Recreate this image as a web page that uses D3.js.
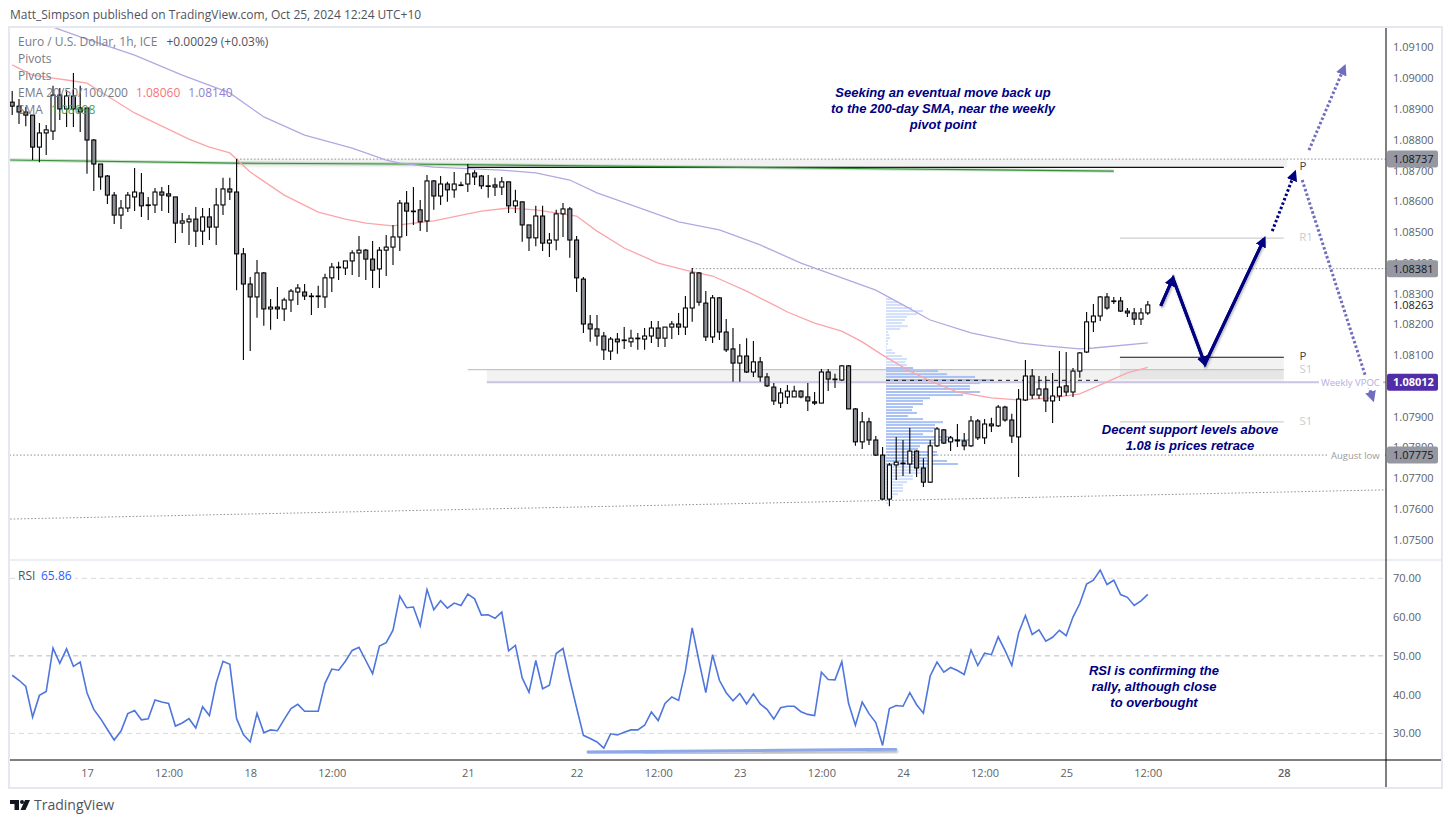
<!DOCTYPE html>
<html>
<head>
<meta charset="utf-8">
<script src="https://cdn.jsdelivr.net/npm/d3@7"></script>
<style>
  html, body { margin: 0; padding: 0; background: #fff; }
  svg { display: block; }
  text { font-family: "Open Sans", "Noto Sans", sans-serif; }
  .note { font-family: "Liberation Sans", Arial, sans-serif; font-weight: bold; font-style: italic; font-size: 13px; fill: #000080; text-anchor: middle; }
</style>
</head>
<body>
<div id="chart"></div>
<script>
// EUR/USD 1h candles. bar 0 is the "17" tick
const firstBar = -11;
const opens = [1.08922,1.08909,1.08890,1.08880,1.08776,1.08822,1.08828,1.08945,1.08900,1.08942,1.08903,
  1.08903,1.08799,1.08721,1.08682,1.08620,1.08555,1.08578,1.08614,1.08627,1.08588,
  1.08588,1.08630,1.08624,1.08614,1.08529,1.08533,1.08542,1.08503,1.08549,1.08516,
  1.08588,1.08640,1.08630,1.08429,1.08331,1.08289,1.08367,1.08250,1.08256,1.08250,
  1.08279,1.08305,1.08305,1.08292,1.08292,1.08289,1.08351,1.08386,1.08383,1.08406,
  1.08432,1.08441,1.08412,1.08380,1.08441,1.08451,1.08484,1.08594,1.08568,1.08572,
  1.08536,1.08666,1.08617,1.08656,1.08637,1.08653,1.08656,1.08692,1.08682,1.08650,
  1.08653,1.08646,1.08663,1.08585,1.08598,1.08523,1.08481,1.08552,1.08464,1.08474,
  1.08559,1.08575,1.08474,1.08347,1.08201,1.08185,1.08162,1.08113,1.08152,1.08149,
  1.08143,1.08155,1.08152,1.08162,1.08188,1.08155,1.08191,1.08201,1.08191,1.08253,
  1.08367,1.08269,1.08159,1.08286,1.08175,1.08120,1.08074,1.08097,1.08045,1.08078,
  1.08029,1.07996,1.07944,1.07964,1.07964,1.07983,1.07964,1.07948,1.07944,1.08045,
  1.08022,1.08019,1.08065,1.07925,1.07818,1.07883,1.07824,1.07775,1.07632,1.07743,
  1.07749,1.07746,1.07788,1.07733,1.07687,1.07805,1.07857,1.07818,1.07824,1.07821,
  1.07805,1.07886,1.07831,1.07876,1.07870,1.07931,1.07889,1.07834,1.07954,1.08032,
  1.07970,1.07990,1.07951,1.07967,1.08000,1.07980,1.08048,1.08110,1.08208,1.08227,
  1.08289,1.08276,1.08276,1.08243,1.08237,1.08217,1.08237];
const highs = [1.08958,1.08932,1.08906,1.08880,1.08854,1.08848,1.08975,1.08968,1.08961,1.09017,1.08975,
  1.08903,1.08802,1.08721,1.08685,1.08630,1.08604,1.08630,1.08708,1.08692,1.08614,
  1.08643,1.08646,1.08653,1.08614,1.08562,1.08555,1.08581,1.08578,1.08578,1.08643,
  1.08676,1.08676,1.08737,1.08448,1.08354,1.08409,1.08370,1.08282,1.08321,1.08286,
  1.08315,1.08331,1.08331,1.08302,1.08325,1.08364,1.08399,1.08403,1.08406,1.08441,
  1.08487,1.08445,1.08471,1.08451,1.08490,1.08523,1.08604,1.08633,1.08646,1.08604,
  1.08685,1.08669,1.08682,1.08663,1.08695,1.08663,1.08721,1.08701,1.08685,1.08685,
  1.08676,1.08679,1.08663,1.08637,1.08598,1.08523,1.08585,1.08585,1.08497,1.08572,
  1.08594,1.08581,1.08487,1.08354,1.08230,1.08230,1.08175,1.08159,1.08172,1.08191,
  1.08182,1.08172,1.08188,1.08211,1.08211,1.08191,1.08211,1.08237,1.08292,1.08383,
  1.08370,1.08308,1.08295,1.08289,1.08217,1.08188,1.08136,1.08155,1.08146,1.08094,
  1.08042,1.08009,1.07993,1.08003,1.08000,1.07986,1.08009,1.07980,1.08055,1.08055,
  1.08039,1.08068,1.08068,1.07928,1.07915,1.07896,1.07837,1.07801,1.07749,1.07834,
  1.07824,1.07863,1.07791,1.07765,1.07824,1.07866,1.07860,1.07837,1.07876,1.07847,
  1.07902,1.07892,1.07892,1.07896,1.07938,1.07935,1.07909,1.07990,1.08084,1.08055,
  1.08032,1.08032,1.08042,1.08113,1.08110,1.08058,1.08110,1.08240,1.08266,1.08292,
  1.08302,1.08289,1.08289,1.08253,1.08253,1.08253,1.08276];
const lows = [1.08880,1.08851,1.08844,1.08734,1.08727,1.08750,1.08799,1.08864,1.08841,1.08841,1.08825,
  1.08689,1.08633,1.08637,1.08591,1.08526,1.08510,1.08565,1.08568,1.08549,1.08539,
  1.08562,1.08568,1.08562,1.08464,1.08497,1.08458,1.08451,1.08458,1.08474,1.08458,
  1.08555,1.08604,1.08311,1.08084,1.08113,1.08221,1.08195,1.08182,1.08217,1.08211,
  1.08240,1.08263,1.08279,1.08230,1.08253,1.08253,1.08305,1.08344,1.08360,1.08360,
  1.08354,1.08344,1.08318,1.08318,1.08357,1.08393,1.08438,1.08487,1.08523,1.08503,
  1.08500,1.08572,1.08588,1.08598,1.08611,1.08650,1.08630,1.08653,1.08640,1.08611,
  1.08617,1.08620,1.08562,1.08562,1.08468,1.08438,1.08454,1.08438,1.08419,1.08441,
  1.08484,1.08416,1.08305,1.08172,1.08143,1.08130,1.08084,1.08084,1.08104,1.08120,
  1.08126,1.08117,1.08117,1.08139,1.08126,1.08126,1.08152,1.08165,1.08165,1.08208,
  1.08260,1.08146,1.08139,1.08149,1.08110,1.08013,1.08013,1.08042,1.08029,1.08013,
  1.07996,1.07938,1.07928,1.07941,1.07964,1.07960,1.07918,1.07938,1.07944,1.07983,
  1.07993,1.08016,1.07925,1.07805,1.07795,1.07808,1.07772,1.07629,1.07609,1.07694,
  1.07707,1.07714,1.07704,1.07671,1.07684,1.07801,1.07811,1.07788,1.07801,1.07791,
  1.07801,1.07824,1.07811,1.07850,1.07866,1.07883,1.07814,1.07704,1.07951,1.07957,
  1.07957,1.07915,1.07879,1.07951,1.07967,1.07964,1.08026,1.08107,1.08175,1.08211,
  1.08247,1.08266,1.08240,1.08224,1.08198,1.08198,1.08230];
const closes = [1.08909,1.08890,1.08880,1.08776,1.08822,1.08832,1.08945,1.08900,1.08942,1.08900,1.08890,
  1.08799,1.08721,1.08679,1.08620,1.08555,1.08578,1.08620,1.08630,1.08585,1.08586,
  1.08630,1.08620,1.08617,1.08529,1.08536,1.08542,1.08503,1.08549,1.08516,1.08588,
  1.08640,1.08630,1.08429,1.08331,1.08289,1.08367,1.08250,1.08256,1.08250,1.08279,
  1.08308,1.08318,1.08292,1.08292,1.08292,1.08351,1.08386,1.08386,1.08406,1.08432,
  1.08441,1.08412,1.08376,1.08441,1.08451,1.08484,1.08594,1.08568,1.08568,1.08533,
  1.08666,1.08617,1.08656,1.08637,1.08656,1.08653,1.08689,1.08679,1.08650,1.08650,
  1.08646,1.08663,1.08585,1.08601,1.08523,1.08481,1.08552,1.08464,1.08474,1.08559,
  1.08575,1.08474,1.08351,1.08201,1.08185,1.08162,1.08117,1.08152,1.08143,1.08149,
  1.08155,1.08155,1.08162,1.08188,1.08155,1.08191,1.08201,1.08191,1.08253,1.08367,
  1.08272,1.08159,1.08286,1.08175,1.08117,1.08074,1.08097,1.08045,1.08078,1.08029,
  1.08000,1.07951,1.07977,1.07983,1.07983,1.07964,1.07951,1.07944,1.08045,1.08022,
  1.08022,1.08065,1.07925,1.07818,1.07883,1.07824,1.07775,1.07632,1.07743,1.07752,
  1.07749,1.07788,1.07733,1.07687,1.07805,1.07860,1.07814,1.07831,1.07821,1.07805,
  1.07886,1.07831,1.07876,1.07870,1.07931,1.07889,1.07837,1.07957,1.08032,1.07970,
  1.07990,1.07951,1.07967,1.07996,1.07980,1.08048,1.08107,1.08208,1.08227,1.08289,
  1.08253,1.08276,1.08243,1.08237,1.08217,1.08237,1.08263];

// RSI, one value per candle
const rsiValues = [45.0,43.7,42.1,34.2,39.8,40.8,52.0,48.1,51.8,47.3,48.4,
  40.5,36.2,33.8,31.0,28.3,30.6,35.1,35.9,33.5,33.8,
  38.6,38.1,37.7,31.9,32.7,33.8,31.4,36.9,34.6,43.0,
  48.6,47.8,33.8,29.7,27.8,35.2,30.2,30.9,30.7,33.6,
  36.4,37.5,35.7,35.7,35.7,42.9,46.6,46.3,48.6,51.4,
  52.2,48.8,45.4,52.5,53.4,56.6,65.4,62.4,62.6,57.7,
  67.1,61.9,64.2,62.3,63.6,63.0,65.9,64.7,60.5,60.6,
  59.7,61.3,51.3,52.7,44.3,40.6,48.8,41.5,42.4,50.6,
  51.9,43.9,36.6,29.5,28.7,27.8,26.2,29.9,29.6,30.3,
  30.9,30.9,32.1,35.5,33.3,37.7,39.4,38.5,46.1,57.2,
  48.6,40.5,50.3,43.7,40.5,38.4,40.3,37.6,40.2,37.6,
  36.2,33.7,36.6,37.0,37.0,35.6,34.9,34.6,45.8,43.9,
  43.8,48.5,37.7,32.1,38.1,35.1,32.8,26.9,36.4,37.2,
  37.0,40.5,37.4,35.2,44.8,48.4,45.8,47.0,46.2,45.2,
  51.5,47.5,50.7,50.3,54.9,51.4,47.5,55.9,60.4,55.5,
  56.7,53.8,54.8,56.6,55.2,60.0,63.5,68.5,69.5,72.1,
  68.4,69.5,65.8,65.1,63.0,64.2,65.86];

// moving averages, read at a set of bars
const ema50Bars = [-11,-8,-5,-3,0,3,7,11,15,18,21,24,29,34,38,41,45,47,51,56,58,62,66,69,72,75,79,84,88,92,97,101,103,107,111,114,117,121,124,128,133,137,142,146,150,153,156];
const ema50 = [1.09043,1.09010,1.09000,1.08994,1.08984,1.08942,1.08887,1.08844,1.08802,1.08776,1.08757,1.08695,1.08620,1.08565,1.08542,1.08529,1.08520,1.08526,1.08536,1.08559,1.08568,1.08578,1.08572,1.08562,1.08552,1.08503,1.08448,1.08399,1.08376,1.08357,1.08308,1.08263,1.08240,1.08204,1.08178,1.08143,1.08100,1.08048,1.08016,1.07980,1.07961,1.07954,1.07961,1.07974,1.08013,1.08042,1.08060];
const ema200Bars = [-5,-1,7,14,21,26,32,39,44,46,51,61,66,71,75,80,87,93,99,105,116,120,124,130,137,141,146,148,156];
const ema200 = [1.09166,1.09134,1.09075,1.09010,1.08952,1.08874,1.08815,1.08773,1.08734,1.08724,1.08711,1.08701,1.08692,1.08669,1.08627,1.08588,1.08533,1.08507,1.08458,1.08399,1.08311,1.08263,1.08214,1.08172,1.08140,1.08130,1.08120,1.08123,1.08140];
const smaBars = [-11.3,21.5,46,104.9,151];
const sma200 = [1.08734,1.08724,1.08721,1.08708,1.08698];

// visible range volume profile
const vpLevels = [1.08282,1.08272,1.08263,1.08253,1.08243,1.08233,1.08224,1.08214,1.08204,1.08194,
  1.08185,1.08175,1.08165,1.08155,1.08146,1.08136,1.08126,1.08116,1.08107,1.08097,
  1.08087,1.08077,1.08068,1.08058,1.08048,1.08038,1.08029,1.08019,1.08009,1.07999,
  1.07990,1.07980,1.07970,1.07960,1.07951,1.07941,1.07931,1.07921,1.07912,1.07902,
  1.07892,1.07882,1.07873,1.07863,1.07853,1.07843,1.07834,1.07824,1.07814,1.07804,
  1.07795,1.07785,1.07775,1.07765,1.07756,1.07746,1.07736,1.07726,1.07717,1.07707,
  1.07697,1.07687,1.07678,1.07668,1.07658,1.07648,1.07639,1.07629,1.07619];
const vpVolumes = [6,12,17,26,37,31,21,19,16,22,
  14,2,3,4,2,2,1,6,9,16,
  21,19,21,27,52,61,89,107,94,84,
  84,94,77,44,37,37,27,26,31,22,
  37,57,49,49,47,37,66,87,51,34,
  32,51,51,41,61,72,41,37,36,27,
  27,21,17,17,17,12,7,4,2];
const vpValueHigh = 1.08060, vpValueLow = 1.07745, vpPoc = 1.08018;

// axes
const priceTicks = [1.075,1.076,1.077,1.078,1.079,1.08,1.081,1.082,1.083,1.084,1.085,1.086,1.087,1.088,1.089,1.09,1.091];
const rsiTicks = [30,40,50,60,70];
const timeBars = [0,12,24,36,56,72,84,96,108,120,132,144,156,176];
const timeLabels = ["17","12:00","18","12:00","21","22","12:00","23","12:00","24","12:00","25","12:00","28"];

const width = 1452, height = 823;
const paneL = 10, paneR = 1386, frameR = 1441, paneT = 28, sepY = 560, axisY = 760, frameB = 787;

const x = d3.scaleLinear().domain([0, 156]).range([87, 1147.8]);
const y = d3.scaleLinear().domain([1.075, 1.091]).range([539.7, 47.4]);
const yRsi = d3.scaleLinear().domain([30, 70]).range([733.4, 578.3]);
const xVp = d3.scaleLinear().domain([0, 107]).range([886, 993]);

const candles = opens.map((o, i) => ({ bar: i + firstBar, o: o, h: highs[i], l: lows[i], c: closes[i] }));

const svg = d3.select("#chart").append("svg").attr("width", width).attr("height", height);
const defs = svg.append("defs");

defs.append("clipPath").attr("id", "clipMain").append("rect")
  .attr("x", paneL).attr("y", paneT).attr("width", paneR - paneL).attr("height", sepY - paneT);
defs.append("clipPath").attr("id", "clipRsi").append("rect")
  .attr("x", paneL).attr("y", sepY).attr("width", paneR - paneL).attr("height", axisY - sepY);

const shadow = defs.append("filter").attr("id", "shadow")
  .attr("x", "-10%").attr("y", "-30%").attr("width", "120%").attr("height", "170%")
  .attr("filterUnits", "objectBoundingBox");
shadow.append("feDropShadow").attr("dx", 1).attr("dy", 2).attr("stdDeviation", 1.2)
  .attr("flood-color", "#000").attr("flood-opacity", 0.3);

function addHead(id, color) {
  defs.append("marker").attr("id", id)
    .attr("viewBox", "0 0 10 10").attr("refX", 7).attr("refY", 5)
    .attr("markerWidth", 11).attr("markerHeight", 11)
    .attr("markerUnits", "userSpaceOnUse").attr("orient", "auto")
    .append("path").attr("d", "M0,0 L10,5 L0,10 z").attr("fill", color);
}
addHead("headNavy", "#000080");
addHead("headPurple", "#6f6dbf");

const main = svg.append("g").attr("clip-path", "url(#clipMain)");
const rsiPane = svg.append("g").attr("clip-path", "url(#clipRsi)");

// shaded pivot zones
const zones = [
  { x0: 22, x1: 176.5, p0: 1.08737, p1: 1.08710 },
  { x0: 58.8, x1: 176, p0: 1.08053, p1: 1.08012 },
  { x0: 151.9, x1: 176, p0: 1.08093, p1: 1.08022 }
];
main.selectAll(".zone").data(zones).enter().append("rect").attr("class", "zone")
  .attr("x", d => x(d.x0)).attr("width", d => x(d.x1) - x(d.x0))
  .attr("y", d => y(d.p0)).attr("height", d => y(d.p1) - y(d.p0))
  .attr("fill", "#7f7f7f").attr("fill-opacity", 0.1);

// volume profile
main.selectAll(".vp").data(d3.zip(vpLevels, vpVolumes)).enter().append("rect").attr("class", "vp")
  .attr("x", xVp(0)).attr("width", d => xVp(d[1]) - xVp(0))
  .attr("y", d => y(d[0]) - 1).attr("height", 2)
  .attr("fill", d => (d[0] <= vpValueHigh && d[0] >= vpValueLow) ? "#a9c1f5" : "#d3e0fb");

// horizontal levels
const dottedLevels = [
  { x0: 22, p: 1.08737 }, { x0: 89, p: 1.08381 }, { x0: -11.4, p: 1.07775 }
];
main.selectAll(".dotted").data(dottedLevels).enter().append("line").attr("class", "dotted")
  .attr("x1", d => x(d.x0)).attr("x2", paneR)
  .attr("y1", d => y(d.p)).attr("y2", d => y(d.p))
  .attr("stroke", "#8f8f8f").attr("stroke-width", 1).attr("stroke-dasharray", "1.5 2");

// rising dotted trend line under the lows
main.append("line")
  .attr("x1", x(-11.3)).attr("y1", y(1.07567)).attr("x2", x(191)).attr("y2", y(1.07662))
  .attr("stroke", "#8f8f8f").attr("stroke-width", 1).attr("stroke-dasharray", "1.5 2");

const pivotLines = [
  { x0: 56, p: 1.08710, c: "#111" },
  { x0: 151.9, p: 1.08093, c: "#111" },
  { x0: 56, p: 1.08053, c: "#c6c6c6" },
  { x0: 151.9, p: 1.08480, c: "#cfcfcf" },
  { x0: 151.9, p: 1.07883, c: "#cfcfcf" }
];
main.selectAll(".pivot").data(pivotLines).enter().append("line").attr("class", "pivot")
  .attr("x1", d => x(d.x0)).attr("x2", x(176))
  .attr("y1", d => y(d.p)).attr("y2", d => y(d.p))
  .attr("stroke", d => d.c).attr("stroke-width", 1.2);

// weekly VPOC
main.append("line")
  .attr("x1", x(58.8)).attr("x2", paneR).attr("y1", y(1.08012)).attr("y2", y(1.08012))
  .attr("stroke", "#c8c4e2").attr("stroke-width", 2);

// profile POC
main.append("line")
  .attr("x1", xVp(0)).attr("x2", 1100).attr("y1", y(vpPoc)).attr("y2", y(vpPoc))
  .attr("stroke", "#111").attr("stroke-width", 1).attr("stroke-dasharray", "4 4");

// moving averages
const lineXY = d3.line().x(d => x(d[0])).y(d => y(d[1]));
main.append("path").datum(d3.zip(smaBars, sma200)).attr("d", lineXY)
  .attr("fill", "none").attr("stroke", "#388e3c").attr("stroke-opacity", 0.25).attr("stroke-width", 3.4);
main.append("path").datum(d3.zip(smaBars, sma200)).attr("d", lineXY)
  .attr("fill", "none").attr("stroke", "#388e3c").attr("stroke-width", 1.1);
main.append("path").datum(d3.zip(ema200Bars, ema200)).attr("d", lineXY)
  .attr("fill", "none").attr("stroke", "#b3a8e2").attr("stroke-width", 1.3);
main.append("path").datum(d3.zip(ema50Bars, ema50)).attr("d", lineXY)
  .attr("fill", "none").attr("stroke", "#fca5a9").attr("stroke-width", 1.3);

// candles
const candle = main.selectAll(".candle").data(candles).enter().append("g").attr("class", "candle");
candle.append("line")
  .attr("x1", d => x(d.bar)).attr("x2", d => x(d.bar))
  .attr("y1", d => y(d.h)).attr("y2", d => y(d.l))
  .attr("stroke", "#000").attr("stroke-width", 1.1);
candle.append("rect")
  .attr("x", d => x(d.bar) - 2).attr("width", 4)
  .attr("y", d => y(Math.max(d.o, d.c)))
  .attr("height", d => Math.max(0.6, Math.abs(y(d.o) - y(d.c))))
  .attr("fill", d => d.c < d.o ? "#8c8e96" : "#fff")
  .attr("stroke", "#000").attr("stroke-width", 1.1);

// drawn arrows
const solidPath = [[157.9,1.08260],[159.7,1.08350],[164.4,1.08071],[173.1,1.08477]];
main.append("path").datum(solidPath).attr("d", lineXY)
  .attr("fill", "none").attr("stroke", "#000080").attr("stroke-width", 3)
  .attr("stroke-linejoin", "miter").attr("filter", "url(#shadow)");
main.append("path").datum(solidPath.slice(0, 2)).attr("d", lineXY)
  .attr("fill", "none").attr("stroke", "#000080").attr("stroke-width", 3).attr("marker-end", "url(#headNavy)");
main.append("path").datum(solidPath.slice(2)).attr("d", lineXY)
  .attr("fill", "none").attr("stroke", "#000080").attr("stroke-width", 3).attr("marker-end", "url(#headNavy)");
main.append("path").datum(solidPath.slice(1, 3)).attr("d", lineXY)
  .attr("fill", "none").attr("stroke", "#000080").attr("stroke-width", 3).attr("marker-end", "url(#headNavy)");

const dottedArrows = [
  { pts: [[174.3,1.08503],[177.6,1.08692]], c: "#000080", head: "headNavy" },
  { pts: [[178.7,1.08669],[189.1,1.07957]], c: "#6f6dbf", head: "headPurple" },
  { pts: [[179.7,1.08766],[184.9,1.09036]], c: "#6f6dbf", head: "headPurple" }
];
main.selectAll(".dotArrow").data(dottedArrows).enter().append("path").attr("class", "dotArrow")
  .attr("d", d => lineXY(d.pts))
  .attr("fill", "none").attr("stroke", d => d.c).attr("stroke-width", 3).attr("stroke-dasharray", "2.5 2.2")
  .attr("marker-end", d => `url(#${d.head})`);

// RSI pane
rsiPane.selectAll(".rsiLevel").data([70, 50, 30]).enter().append("line").attr("class", "rsiLevel")
  .attr("x1", paneL).attr("x2", paneR)
  .attr("y1", d => yRsi(d)).attr("y2", d => yRsi(d))
  .attr("stroke", d => d == 50 ? "#b8bac0" : "#d9d9d9").attr("stroke-width", 1).attr("stroke-dasharray", "5 4");

rsiPane.append("path").datum(rsiValues.map((v, i) => [i + firstBar, v]))
  .attr("d", d3.line().x(d => x(d[0])).y(d => yRsi(d[1])))
  .attr("fill", "none").attr("stroke", "#4f76dc").attr("stroke-width", 1.6);

rsiPane.append("line")
  .attr("x1", x(73.5)).attr("y1", yRsi(25.2)).attr("x2", x(119.1)).attr("y2", yRsi(25.9))
  .attr("stroke", "#8ea8e8").attr("stroke-width", 3).attr("filter", "url(#shadow)");

// frame
const frameColor = "#e6e8f1";
svg.append("rect").attr("x", paneL - 1).attr("y", paneT - 1)
  .attr("width", frameR - paneL + 2).attr("height", frameB - paneT + 2)
  .attr("fill", "none").attr("stroke", frameColor).attr("stroke-width", 2);
svg.append("line").attr("x1", paneL).attr("x2", frameR).attr("y1", sepY).attr("y2", sepY)
  .attr("stroke", frameColor).attr("stroke-width", 1.5);
svg.append("line").attr("x1", paneL).attr("x2", frameR).attr("y1", axisY).attr("y2", axisY)
  .attr("stroke", "#000").attr("stroke-width", 1);
svg.append("line").attr("x1", paneR).attr("x2", paneR).attr("y1", paneT).attr("y2", frameB)
  .attr("stroke", "#000").attr("stroke-width", 1);

// axes
const axisPrice = svg.append("g").attr("transform", `translate(${paneR + 4},0)`)
  .call(d3.axisRight(y).tickValues(priceTicks).tickSize(0).tickFormat(d3.format(".5f")));
const axisRsi = svg.append("g").attr("transform", `translate(${paneR + 4},0)`)
  .call(d3.axisRight(yRsi).tickValues(rsiTicks).tickSize(0).tickFormat(d3.format(".2f")));
const axisTime = svg.append("g").attr("transform", `translate(0,${axisY + 6})`)
  .call(d3.axisBottom(x).tickValues(timeBars).tickSize(0)
    .tickFormat((d, i) => timeLabels[i]));
[axisPrice, axisRsi, axisTime].forEach(a => {
  a.select(".domain").remove();
  a.selectAll("text").attr("font-size", 11).attr("fill", "#5d5f66")
    .style("font-family", '"Open Sans", sans-serif');
});
axisTime.selectAll("text").filter(d => d == 176).attr("font-weight", 600);

// last price, no background
svg.append("rect").attr("x", paneR + 2).attr("y", y(1.08263) - 7).attr("width", 50).attr("height", 14).attr("fill", "#fff");
svg.append("text").attr("x", paneR + 7).attr("y", y(1.08263) + 4)
  .attr("font-size", 11).attr("fill", "#222").text("1.08263");

// price tags
const tags = [
  { p: 1.08737, bg: "#9598a1", fg: "#131722", w: "normal" },
  { p: 1.08381, bg: "#9598a1", fg: "#131722", w: "normal" },
  { p: 1.08012, bg: "#512da8", fg: "#fff", w: "bold" },
  { p: 1.07775, bg: "#9598a1", fg: "#131722", w: "normal" }
];
const tag = svg.selectAll(".tag").data(tags).enter().append("g").attr("class", "tag");
tag.append("rect").attr("x", paneR + 1).attr("width", 51).attr("height", 17)
  .attr("y", d => y(d.p) - 8.5).attr("rx", 2).attr("fill", d => d.bg);
tag.append("text").attr("x", paneR + 7).attr("y", d => y(d.p) + 4)
  .attr("font-size", 11).attr("font-weight", d => d.w).attr("fill", d => d.fg)
  .text(d => d3.format(".5f")(d.p));

// line labels with a white gap
const lineLabels = [
  { t: "Weekly VPOC", x: 1321, p: 1.08012, c: "#b7ace3" },
  { t: "August low", x: 1331, p: 1.07775, c: "#9a9a9a" }
];
const lineLabel = svg.selectAll(".lineLabel").data(lineLabels).enter().append("g").attr("class", "lineLabel");
lineLabel.append("rect").attr("x", d => d.x - 2).attr("y", d => y(d.p) - 6)
  .attr("width", d => paneR - d.x - 1).attr("height", 12).attr("fill", "#fff");
lineLabel.append("text").attr("x", d => d.x).attr("y", d => y(d.p) + 3.5)
  .attr("font-size", 9.5).attr("fill", d => d.c).text(d => d.t);

// pivot labels
const pivotLabels = [
  { t: "P", x: 1303, p: 1.08710, c: "#444" },
  { t: "P", x: 1303, p: 1.08093, c: "#444" },
  { t: "R1", x: 1306, p: 1.08480, c: "#ccc" },
  { t: "S1", x: 1306, p: 1.08053, c: "#ccc" },
  { t: "S1", x: 1306, p: 1.07883, c: "#ccc" }
];
svg.selectAll(".pivotLabel").data(pivotLabels).enter().append("text").attr("class", "pivotLabel")
  .attr("x", d => d.x).attr("y", d => y(d.p) + 3).attr("text-anchor", "middle")
  .attr("font-size", 11.5).attr("fill", d => d.c).text(d => d.t);

// notes
const notes = [
  { cx: 943, lines: [["Seeking an eventual move back up", 97], ["to the 200-day SMA, near the weekly", 113], ["pivot point", 129]] },
  { cx: 1190, lines: [["Decent support levels above", 434], ["1.08 is prices retrace", 450]] },
  { cx: 1154, lines: [["RSI is confirming the", 675], ["rally, although close", 691], ["to overbought", 707]] }
];
notes.forEach(n => {
  n.lines.forEach(l => {
    svg.append("text").attr("class", "note").attr("x", n.cx).attr("y", l[1]).text(l[0]);
  });
});

// header and legends
svg.append("text").attr("x", 10).attr("y", 19).attr("font-size", 12).attr("fill", "#50535e")
  .text("Matt_Simpson published on TradingView.com, Oct 25, 2024 12:24 UTC+10");

const legend = svg.append("g").attr("font-size", 12);
const legendRow1 = legend.append("text").attr("x", 18).attr("y", 46).attr("fill", "#787b86");
legendRow1.append("tspan").text("Euro / U.S. Dollar, 1h, ICE  ");
legendRow1.append("tspan").attr("fill", "#50535e").attr("dx", 6).text("+0.00029 (+0.03%)");
legend.append("text").attr("x", 18).attr("y", 63).attr("fill", "#787b86").text("Pivots");
legend.append("text").attr("x", 18).attr("y", 80).attr("fill", "#787b86").text("Pivots");
const legendRow4 = legend.append("text").attr("x", 18).attr("y", 97).attr("fill", "#787b86");
legendRow4.append("tspan").text("EMA 20/50/100/200");
legendRow4.append("tspan").attr("dx", 8).attr("fill", "#f7727a").text("1.08060");
legendRow4.append("tspan").attr("dx", 8).attr("fill", "#8f80d4").text("1.08140");
const legendRow5 = legend.append("text").attr("x", 18).attr("y", 114).attr("fill", "#787b86");
legendRow5.append("tspan").text("SMA");
legendRow5.append("tspan").attr("dx", 8).attr("fill", "#4f9e55").text("1.08698");

const rsiLegend = svg.append("g").attr("font-size", 12);
rsiLegend.append("rect").attr("x", 16).attr("y", 570).attr("width", 59).attr("height", 14).attr("fill", "#fff");
rsiLegend.append("text").attr("x", 18).attr("y", 580).attr("fill", "#50535e").text("RSI");
rsiLegend.append("text").attr("x", 41).attr("y", 580).attr("fill", "#2962ff").text("65.86");

// TradingView mark
const logo = svg.append("g").attr("fill", "#131722");
logo.append("path").attr("d", "M10,800 H19 V810 H14.5 V804 H10 Z");
logo.append("circle").attr("cx", 22).attr("cy", 802).attr("r", 2);
logo.append("path").attr("d", "M25,800 H30 L25.5,810 H20.5 Z");
svg.append("text").attr("x", 34).attr("y", 810).attr("font-size", 14).attr("fill", "#50535e").text("TradingView");
</script>
</body>
</html>
